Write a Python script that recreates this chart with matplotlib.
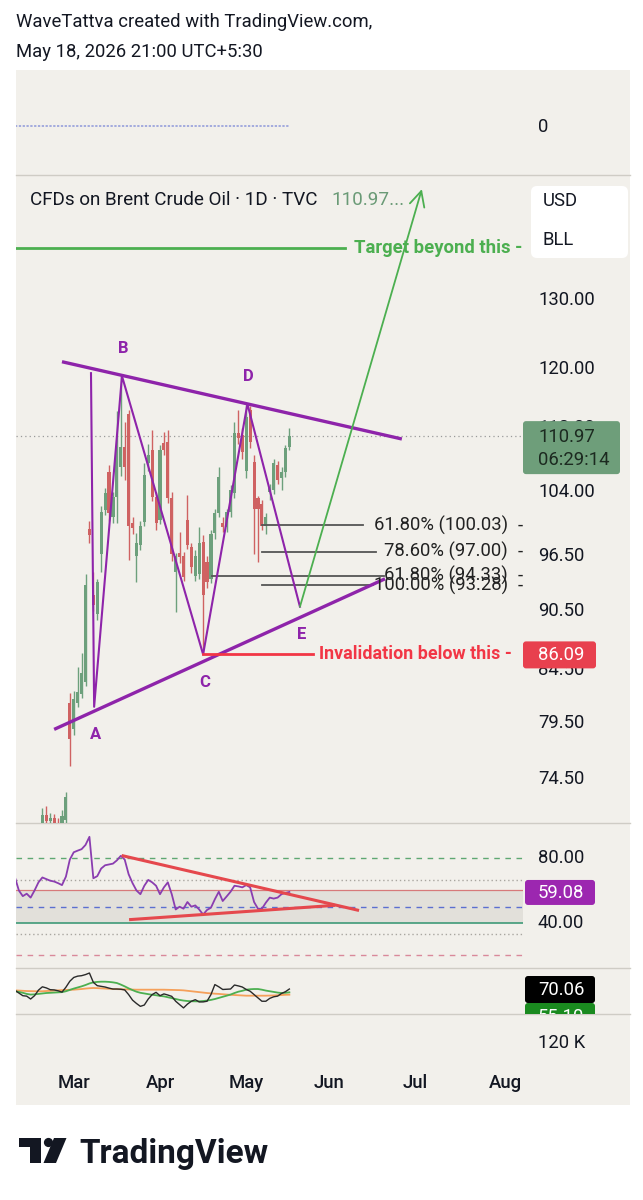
import matplotlib
matplotlib.use('Agg')
import matplotlib.pyplot as plt
import matplotlib.transforms as mtransforms
from matplotlib.patches import FancyBboxPatch, Rectangle, Polygon, Circle
from matplotlib.lines import Line2D

plt.rcParams['font.family'] = ['Roboto', 'DejaVu Sans']

# ---------------- data (bar index 0 = first bar, trading days) ----------------
bar_index = list(range(71))
opens = [69.2, 69.6, 69.4, 69.5, 69.9, 70.2, 69.8, 70.6, 71.4, 70.9,
         71.2, 70.7, 70.5, 71.0, 81.4, 78.9, 81.4, 82.2, 83.4, 99.6,
         92.3, 90.2, 96.7, 101.8, 106.4, 101.0, 103.4, 107.1, 109.6, 113.8,
         100.3, 96.5, 97.8, 100.4, 107.6, 109.2, 103.4, 100.7, 110.1, 110.2,
         103.3, 94.8, 96.9, 96.5, 100.7, 97.5, 94.3, 94.5, 98.1, 95.9,
         94.0, 99.2, 101.5, 100.3, 99.8, 101.6, 103.9, 111.4, 111.1, 106.5,
         114.4, 107.7, 103.3, 102.5, 99.9, 104.0, 104.2, 107.3, 105.7, 106.45,
         109.6]
highs = [69.9, 70.2, 70.1, 70.3, 70.5, 70.6, 70.4, 72.0, 72.2, 71.6,
         71.5, 71.2, 71.8, 73.4, 82.3, 82.5, 84.8, 86.2, 94.5, 100.5,
         94.7, 94.0, 102.3, 104.5, 107.3, 104.0, 114.2, 119.0, 112.8, 114.4,
         101.0, 99.2, 100.5, 107.5, 109.9, 111.8, 104.0, 109.8, 111.5, 111.8,
         104.0, 96.9, 99.3, 97.0, 103.6, 98.0, 97.2, 99.8, 98.9, 96.5,
         99.5, 102.0, 107.1, 101.0, 102.0, 104.8, 112.8, 114.4, 112.0, 115.1,
         114.9, 108.6, 103.5, 103.0, 101.5, 105.0, 108.0, 107.8, 107.0, 109.8,
         112.0]
lows = [68.6, 69.0, 68.9, 68.8, 69.2, 69.4, 69.0, 70.0, 70.5, 70.2,
        70.3, 69.9, 70.1, 70.6, 75.6, 78.4, 81.0, 81.8, 83.0, 98.0,
        90.5, 89.6, 94.7, 101.3, 100.5, 100.3, 100.3, 106.0, 105.5, 96.1,
        99.0, 93.6, 97.2, 100.0, 106.5, 102.9, 99.5, 100.2, 108.5, 102.7,
        96.0, 90.4, 95.8, 93.8, 97.3, 94.6, 93.8, 94.0, 86.1, 93.0,
        93.5, 98.5, 101.0, 99.3, 99.3, 101.0, 103.3, 110.0, 108.0, 105.7,
        109.5, 96.7, 95.9, 99.5, 99.0, 103.0, 103.8, 104.9, 104.2, 105.8,
        109.2]
closes = [69.6, 69.4, 69.5, 69.9, 70.2, 69.8, 70.1, 71.4, 70.9, 71.2,
          70.7, 70.5, 71.3, 72.9, 78.0, 81.7, 82.4, 84.2, 93.3, 98.9,
          91.2, 93.6, 101.6, 103.9, 101.5, 103.4, 109.6, 109.6, 107.1, 99.9,
          99.7, 98.0, 99.9, 106.1, 108.6, 103.4, 100.3, 109.2, 109.2, 103.3,
          96.8, 96.5, 96.4, 94.2, 97.8, 95.3, 96.5, 98.0, 92.3, 93.7,
          99.0, 101.5, 105.8, 99.8, 101.6, 104.2, 111.4, 110.75, 109.0, 113.5,
          110.2, 101.9, 101.9, 99.9, 101.0, 104.5, 107.6, 105.5, 106.45, 109.5,
          110.97]

month_labels = ['Mar', 'Apr', 'May', 'Jun', 'Jul', 'Aug']
month_pos = [15, 37, 59, 80, 102, 125]

price_ticks = [130.0, 120.0, 112.0, 104.0, 96.5, 90.5, 84.5, 79.5, 74.5]
last_price = 110.97

wave_names = ['', 'A', 'B', 'C', 'D', 'E']
wave_x = [19.4, 20.2, 27.3, 48.0, 59.3, 72.7]
wave_y = [119.4, 81.0, 119.0, 86.09, 115.2, 91.0]

upper_tl_x = [12.0, 98.7]
upper_tl_y = [121.0, 110.6]
lower_tl_x = [10.0, 94.4]
lower_tl_y = [78.9, 94.0]

target_price = 138.1
target_line_end = 84.2
arrow_tip = (103.8, 147.9)
invalid_price = 86.09
invalid_line_end = 76.0

fib_labels = ['61.80% (100.03)', '78.60% (97.00)', '61.80% (94.33)', '100.00% (93.28)']
fib_prices = [100.03, 97.00, 94.33, 93.28]
fib_start = [62.9, 62.9, 50.3, 62.9]
fib_end = [88.8, 92.1, 94.2, 91.3]

rsi = [68.1, 60, 56.5, 58, 55.6, 60, 65, 68, 67, 66,
       65.5, 64.5, 63.3, 68.5, 79, 83.5, 84.5, 85.4, 88, 93,
       67.5, 68.8, 73.5, 75.5, 76, 76.5, 78.5, 81.3, 79, 70,
       64.5, 60, 57.7, 62.9, 66.5, 65, 62.9, 57.7, 61.9, 65,
       57.7, 48.3, 50, 48.8, 52.9, 50, 50.8, 48.3, 45.2, 48,
       49.4, 54.6, 59.2, 53.5, 56.3, 59.2, 62.9, 62.5, 61.9, 63.3,
       61.9, 52.9, 48.75, 48.75, 52.5, 55.6, 55.0, 55.6, 57.7, 58.5,
       59.08]
rsi_upper_x = [27.6, 87.4]
rsi_upper_y = [81.3, 47.9]
rsi_lower_x = [29.5, 81.3]
rsi_lower_y = [42.1, 50.8]
rsi_levels = [80, 66.5, 60, 50, 40, 33.5, 20]

osc_fast = [64, 52, 40, 38, 25, 40, 65, 80, 75, 67,
            66, 62, 56, 78, 105, 122, 128, 130, 135, 142,
            100, 85, 82, 79, 74, 70, 70, 69, 66, 45,
            20, 5, -8, -2, 25, 45, 55, 40, 48, 43,
            37, 15, 0, -15, 2, 15, 22, 12, 12, 15,
            45, 90, 80, 68, 69, 70, 88, 84, 79, 68,
            60, 45, 30, 15, 15, 28, 35, 38, 50, 58,
            70.06]
osc_mid = [60, 57, 53, 48, 45, 46, 48, 50, 52, 53,
           54, 55, 56, 60, 66, 72, 77, 82, 88, 95,
           100, 102, 103, 103, 102, 100, 97, 90, 82, 73,
           65, 58, 53, 50, 47, 44, 42, 39, 37, 33,
           29, 25, 21, 18, 16, 15, 14.6, 14.6, 16, 18,
           21, 25, 30, 35, 40, 45, 52, 58, 62, 67,
           69, 70, 70, 67, 63, 60, 57, 54, 52, 53,
           55.1]
osc_slow = [64, 63, 62, 61, 60.5, 60, 59.6, 60, 61, 62,
            63, 64, 65, 66, 66.5, 67, 68.5, 70, 72, 73.5,
            74.6, 74, 73, 72, 71, 70, 69.5, 69, 68.5, 68,
            67.5, 67, 67, 67, 67, 67, 67, 67, 67, 66.5,
            66, 65.5, 65, 64, 62, 60, 58, 56, 54, 52,
            50.5, 49, 48, 46.5, 45, 44, 43, 42, 41, 40,
            40, 40, 40, 40, 40, 40.5, 41, 42, 43, 44,
            44.6]

# ---------------- styling ----------------
W, H = 643, 1200
BG = '#F2F0EB'
TXT = '#131722'
GREEN_C = '#6DA07C'
RED_C = '#CF6262'
PURPLE = '#8E24AA'
GREEN_D = '#4CAF50'
RED_D = '#F23645'
FS = 13.3

fig = plt.figure(figsize=(W / 100, H / 100), dpi=100)
fig.patch.set_facecolor('white')
PX = mtransforms.Affine2D().scale(1, -1).translate(0, H)


def add_axes_px(x0, y0, x1, y1):
    a = fig.add_axes([x0 / W, 1 - y1 / H, (x1 - x0) / W, (y1 - y0) / H])
    a.set_axis_off()
    return a


def ypx(a, val):
    return H - a.transData.transform((0, val))[1]


fig.add_artist(Rectangle((16, 70), 614, 1035, transform=PX, facecolor=BG,
                         edgecolor='none', zorder=-2))

X0, X1 = 0.27, 129.6
LEFT, RIGHT = 16, 523

# top indicator pane
ax_t = add_axes_px(LEFT, 70, RIGHT, 175)
ax_t.set_xlim(X0, X1)
ax_t.set_ylim(-0.467, 0.533)
ax_t.plot([bar_index[0], bar_index[-1]], [0, 0], color='#8E98DA', lw=1.1,
          ls=(0, (1.5, 1)))

# price pane
ax = add_axes_px(LEFT, 175, RIGHT, 823)
ax.set_yscale('log')
ax.set_xlim(X0, X1)
ax.set_ylim(70.76, 150.35)

for k, o, h, l, c in zip(bar_index, opens, highs, lows, closes):
    col = GREEN_C if c >= o else RED_C
    ax.vlines(k, l, h, color=col, lw=1.0, zorder=2)
    ax.bar(k, abs(c - o) if abs(c - o) > 0.05 else 0.12, bottom=min(o, c),
           width=0.8, color=col, zorder=3, linewidth=0)

ax.axhline(last_price, color='#9a9a9a', lw=0.9, ls=(0, (1, 2.5)), zorder=1)

# wave drawings
ax.plot(upper_tl_x, upper_tl_y, color=PURPLE, lw=2.4, zorder=5, solid_capstyle='butt')
ax.plot(lower_tl_x, lower_tl_y, color=PURPLE, lw=2.4, zorder=5, solid_capstyle='butt')
ax.plot(wave_x, wave_y, color=PURPLE, lw=1.5, zorder=5)
offs = {'A': -20, 'B': 20, 'C': -20, 'D': 20, 'E': -20}
for n, xv, yv in zip(wave_names, wave_x, wave_y):
    if n:
        ax.annotate(n, (xv, yv), xytext=(1, offs[n]), textcoords='offset points',
                    ha='center', va='center', color=PURPLE, fontsize=12,
                    fontweight='bold', zorder=6)

# target
ax.plot([X0, target_line_end], [target_price, target_price], color=GREEN_D, lw=2.0, zorder=5)
ax.annotate('', xy=arrow_tip, xytext=(wave_x[-1], wave_y[-1]),
            arrowprops=dict(arrowstyle='->,head_length=0.9,head_width=0.45',
                            color=GREEN_D, lw=1.3, shrinkA=0, shrinkB=0,
                            mutation_scale=12), zorder=5)
trP = mtransforms.blended_transform_factory(PX, ax.transData)
ax.text(522, target_price, 'Target beyond this -', transform=trP, ha='right',
        va='center', color=GREEN_D, fontsize=FS, fontweight='bold', clip_on=False,
        zorder=6)

# invalidation
ax.plot([wave_x[3], invalid_line_end], [invalid_price, invalid_price], color=RED_D,
        lw=2.0, zorder=5)
ax.text(512, invalid_price, 'Invalidation below this -', transform=trP, ha='right',
        va='center', color=RED_D, fontsize=12.9, fontweight='bold', clip_on=False,
        zorder=6)

# fib levels
for lab, pr, s, e in zip(fib_labels, fib_prices, fib_start, fib_end):
    ax.plot([s, e], [pr, pr], color='#555555', lw=1.3, zorder=4)
    ax.text(508, pr, lab, transform=trP, ha='right', va='center', color='#222222',
            fontsize=FS, clip_on=False, zorder=6)
    ax.text(518, pr, '-', transform=trP, ha='left', va='center', color='#222222',
            fontsize=FS, clip_on=False, zorder=6)

# price scale labels
for t in price_ticks:
    ax.text(538, t, f'{t:.2f}', transform=trP, ha='left', va='center', color=TXT,
            fontsize=FS, clip_on=False, zorder=1)

# RSI pane
ax_r = add_axes_px(LEFT, 823, RIGHT, 968)
ax_r.set_xlim(X0, X1)
ax_r.set_ylim(12.3, 101.5)
ax_r.axhspan(40, 60, color='#E2E0DA', zorder=0, lw=0)
lvl_styles = {80: ('#5FA872', (0, (4, 4)), 1.0), 66.5: ('#a9a6a0', (0, (1, 2)), 1.0),
              60: ('#D77A7A', '-', 0.9), 50: ('#5B6FD0', (0, (4, 4)), 1.0),
              40: ('#3F9A78', '-', 1.2), 33.5: ('#a9a6a0', (0, (1, 2)), 1.0),
              20: ('#D9899A', (0, (4, 4)), 1.0)}
for lv in rsi_levels:
    c, ls, lw = lvl_styles[lv]
    ax_r.axhline(lv, color=c, ls=ls, lw=lw, zorder=1)
ax_r.plot(bar_index, rsi, color='#8A3DB0', lw=1.3, zorder=3)
ax_r.plot(rsi_upper_x, rsi_upper_y, color='#E5484D', lw=2.2, zorder=4)
ax_r.plot(rsi_lower_x, rsi_lower_y, color='#E5484D', lw=2.2, zorder=4)
trR = mtransforms.blended_transform_factory(PX, ax_r.transData)
for v in (80, 40):
    ax_r.text(538, v, f'{v:.2f}', transform=trR, ha='left', va='center', color=TXT,
              fontsize=FS, clip_on=False)

# oscillator pane
ax_o = add_axes_px(LEFT, 968, RIGHT, 1014)
ax_o.set_xlim(X0, X1)
ax_o.set_ylim(-42.4, 164.6)
ax_o.plot(bar_index, osc_slow, color='#F5A05A', lw=1.3, zorder=2)
ax_o.plot(bar_index, osc_mid, color='#4CAF50', lw=1.3, zorder=3)
ax_o.plot(bar_index, osc_fast, color='#2a2a2a', lw=1.0, zorder=4)

# volume pane (label only) and time axis
ax_v = add_axes_px(LEFT, 1014, RIGHT, 1060)
ax_v.set_xlim(X0, X1)
ax_x = add_axes_px(LEFT, 1060, RIGHT, 1105)
ax_x.set_xlim(X0, X1)
ax_x.set_ylim(0, 1)
for lab, pos in zip(month_labels, month_pos):
    ax_x.text(pos, 0.5, lab, ha='center', va='center', fontsize=FS, color=TXT,
              fontweight='medium', clip_on=True)

# separators
for yy in (175, 823, 968, 1014):
    fig.add_artist(Line2D([16, 630], [yy, yy], transform=PX, color='#CFCCC5', lw=1,
                          zorder=-1))

# ---- figure-level labels ----
fig.text(16, 22, 'WaveTattva created with TradingView.com,', transform=PX,
         fontsize=FS, va='center', color=TXT)
fig.text(16, 52, 'May 18, 2026 21:00 UTC+5:30', transform=PX, fontsize=FS,
         va='center', color=TXT)
fig.text(538, 127, '0', transform=PX, fontsize=FS, va='center', color=TXT)
fig.text(30, 200, 'CFDs on Brent Crude Oil · 1D · TVC', transform=PX, fontsize=13.6,
         va='center', color=TXT)
fig.text(331, 200, '110.97...', transform=PX, fontsize=13.6, va='center',
         color='#6A9A76')

fig.add_artist(FancyBboxPatch((531, 186), 97, 72, boxstyle='round,pad=0,rounding_size=6',
                              transform=PX, facecolor='white', edgecolor='none', zorder=4))
fig.text(543, 201, 'USD', transform=PX, fontsize=FS, va='center', color=TXT, zorder=5)
fig.text(543, 240, 'BLL', transform=PX, fontsize=FS, va='center', color=TXT, zorder=5)

# last price label
yl = ypx(ax, last_price)
fig.add_artist(FancyBboxPatch((523, yl - 15), 97, 53, boxstyle='round,pad=0,rounding_size=3',
                              transform=PX, facecolor='#6E9E7A', edgecolor='none', zorder=4))
fig.text(538, yl + 1, f'{last_price:.2f}', transform=PX, fontsize=FS, va='center',
         color='#1c2a20', zorder=5)
fig.text(538, yl + 24, '06:29:14', transform=PX, fontsize=FS, va='center',
         color='#1c2a20', zorder=5)

# invalidation label
yi = ypx(ax, invalid_price)
fig.add_artist(FancyBboxPatch((523, yi - 13), 73, 27, boxstyle='round,pad=0,rounding_size=3',
                              transform=PX, facecolor='#E8404E', edgecolor='none', zorder=4))
fig.text(538, yi + 1, f'{invalid_price:.2f}', transform=PX, fontsize=FS, va='center',
         color='white', zorder=5)

# RSI label
yr = ypx(ax_r, rsi[-1])
fig.add_artist(FancyBboxPatch((525, yr - 12), 70, 25, boxstyle='round,pad=0,rounding_size=3',
                              transform=PX, facecolor='#9C27B0', edgecolor='none', zorder=4))
fig.text(538, yr + 1, f'{rsi[-1]:.2f}', transform=PX, fontsize=FS, va='center',
         color='white', zorder=5)

# oscillator labels
yo = ypx(ax_o, osc_fast[-1])
clip = mtransforms.Bbox([[520, H - 1014], [640, H - 968]])
gb = FancyBboxPatch((525, yo + 14), 70, 26, boxstyle='round,pad=0,rounding_size=3',
                    transform=PX, facecolor='#1A8A1F', edgecolor='none', zorder=4)
fig.add_artist(gb)
gb.set_clip_box(clip)
gt = fig.text(538, yo + 28, f'{osc_mid[-1]:.2f}', transform=PX, fontsize=FS,
              va='center', color='white', zorder=5)
gt.set_clip_box(clip)
gt.set_clip_on(True)
fig.add_artist(FancyBboxPatch((525, yo - 13), 70, 27, boxstyle='round,pad=0,rounding_size=3',
                              transform=PX, facecolor='#000000', edgecolor='none', zorder=4))
fig.text(538, yo + 1, f'{osc_fast[-1]:.2f}', transform=PX, fontsize=FS, va='center',
         color='white', zorder=5)

fig.text(538, 1043, '120 K', transform=PX, fontsize=FS, va='center', color=TXT)

# TradingView logo
fig.add_artist(Rectangle((18.5, 1138), 22.5, 9, transform=PX, facecolor='#131722',
                         edgecolor='none'))
fig.add_artist(Rectangle((29.5, 1138), 11.5, 25, transform=PX, facecolor='#131722',
                         edgecolor='none'))
fig.add_artist(Circle((48.5, 1142.5), 4.6, transform=PX, facecolor='#131722',
                      edgecolor='none'))
fig.add_artist(Polygon([(54, 1138), (66.5, 1138), (56, 1163), (43.5, 1163)],
                       closed=True, transform=PX, facecolor='#131722', edgecolor='none'))
fig.text(79, 1163, 'TradingView', transform=PX, fontsize=24, fontweight='bold',
         va='baseline', color='#131722')

fig.savefig('out.png', dpi=100, facecolor='white')
